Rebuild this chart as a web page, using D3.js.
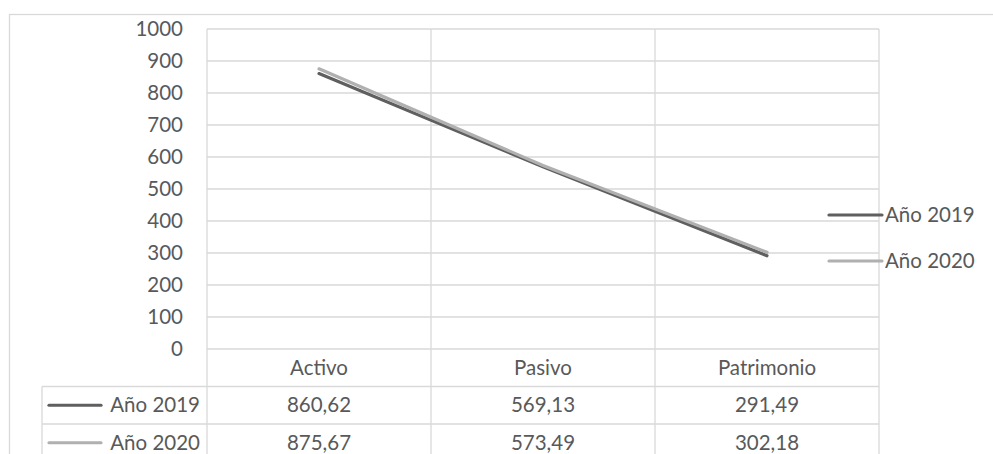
<!DOCTYPE html>
<html><head><meta charset="utf-8">
<script src="https://cdn.jsdelivr.net/npm/d3@7"></script>
<style>
html,body{margin:0;padding:0;background:#fff;}
svg{display:block;}
text{font-family:"Lato","Open Sans",sans-serif;fill:#595959;}
</style></head><body>
<svg id="c" width="993" height="454"></svg>
<script>
const categories = ["Activo", "Pasivo", "Patrimonio"];
const seriesNames = ["Año 2019", "Año 2020"];
const values2019 = [860.62, 569.13, 291.49];
const values2020 = [875.67, 573.49, 302.18];
const valueLabels2019 = ["860,62", "569,13", "291,49"];
const valueLabels2020 = ["875,67", "573,49", "302,18"];
const yTicks = [0, 100, 200, 300, 400, 500, 600, 700, 800, 900, 1000];
const colors = ["#5f5f5f", "#b0b0b0"];

(function(){
const series = [
  {name: seriesNames[0], values: values2019, labels: valueLabels2019, color: colors[0]},
  {name: seriesNames[1], values: values2020, labels: valueLabels2020, color: colors[1]}
];

const svg = d3.select("#c");
const pLeft = 207, pRight = 879, pTop = 29, pBottom = 349;
const grid = "#d9d9d9";
const fs = 20.5;

svg.append("rect").attr("x", 9.5).attr("y", 14.5).attr("width", 1000).attr("height", 500)
  .attr("fill", "none").attr("stroke", grid).attr("stroke-width", 1.3);

const x = d3.scaleBand().domain(categories).range([pLeft, pRight]);
const y = d3.scaleLinear().domain([0, 1000]).range([pBottom, pTop]);

svg.append("g").selectAll("line").data(yTicks).join("line")
  .attr("x1", pLeft).attr("x2", pRight)
  .attr("y1", d => y(d)).attr("y2", d => y(d))
  .attr("stroke", grid).attr("stroke-width", 1.3);

const tableRowH = 37.5;
const tableBottom = pBottom + tableRowH * 3 + 10;
const bounds = [pLeft].concat(categories.map(c => x(c) + x.bandwidth()));
svg.append("g").selectAll("line").data(bounds).join("line")
  .attr("x1", d => d).attr("x2", d => d)
  .attr("y1", pTop).attr("y2", tableBottom)
  .attr("stroke", grid).attr("stroke-width", 1.3);

const tableLeft = 42;
[1, 2].forEach(i => {
  svg.append("line").attr("x1", tableLeft).attr("x2", pRight)
    .attr("y1", pBottom + tableRowH * i).attr("y2", pBottom + tableRowH * i)
    .attr("stroke", grid).attr("stroke-width", 1.3);
});
svg.append("line").attr("x1", tableLeft).attr("x2", tableLeft)
  .attr("y1", pBottom + tableRowH).attr("y2", tableBottom)
  .attr("stroke", grid).attr("stroke-width", 1.3);

const yAxis = d3.axisLeft(y).tickValues(yTicks).tickSize(0).tickPadding(0).tickFormat(d3.format("d"));
const ya = svg.append("g").attr("transform", `translate(183,0)`).call(yAxis);
ya.select(".domain").remove();
ya.selectAll("text").style("font-size", fs + "px").attr("fill", "#595959")
  .style("font-family", "Lato, 'Open Sans', sans-serif");

svg.append("g").selectAll("text").data(categories).join("text")
  .attr("x", d => x(d) + x.bandwidth() / 2).attr("y", pBottom + tableRowH / 2)
  .attr("dy", "0.35em").attr("text-anchor", "middle").style("font-size", fs + "px").text(d => d);

const line = d3.line().x((d, i) => x(categories[i]) + x.bandwidth() / 2).y(d => y(d));
series.forEach(s => {
  svg.append("path").datum(s.values).attr("d", line)
    .attr("fill", "none").attr("stroke", s.color).attr("stroke-width", 3.2)
    .attr("stroke-linecap", "round").attr("stroke-linejoin", "round");
});

const legY = [215, 261];
series.forEach((s, i) => {
  svg.append("line").attr("x1", 829).attr("x2", 882).attr("y1", legY[i]).attr("y2", legY[i])
    .attr("stroke", s.color).attr("stroke-width", 3.2).attr("stroke-linecap", "round");
  svg.append("text").attr("x", 885).attr("y", legY[i]).attr("dy", "0.35em")
    .style("font-size", fs + "px").text(s.name);
});

series.forEach((s, i) => {
  const cy = pBottom + tableRowH * (i + 1) + tableRowH / 2;
  svg.append("line").attr("x1", 49).attr("x2", 101).attr("y1", cy).attr("y2", cy)
    .attr("stroke", s.color).attr("stroke-width", 3.2).attr("stroke-linecap", "round");
  svg.append("text").attr("x", 200).attr("y", cy).attr("dy", "0.35em").attr("text-anchor", "end")
    .style("font-size", fs + "px").text(s.name);
  svg.append("g").selectAll("text").data(s.labels).join("text")
    .attr("x", (d, j) => x(categories[j]) + x.bandwidth() / 2).attr("y", cy).attr("dy", "0.35em")
    .attr("text-anchor", "middle").style("font-size", fs + "px").text(d => d);
});
})();
</script>
</body></html>
